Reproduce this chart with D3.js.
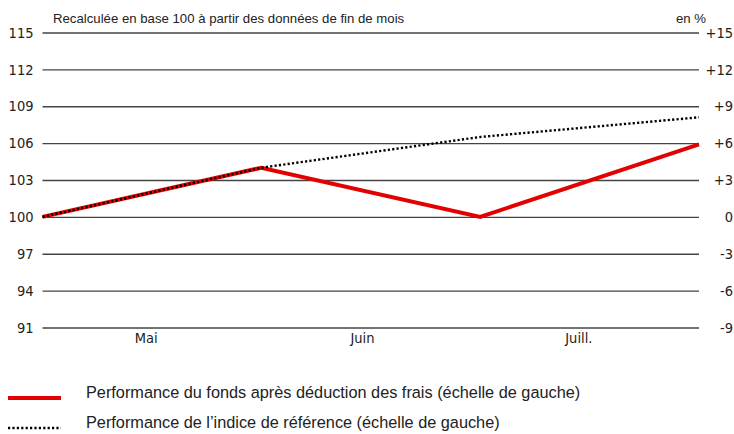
<!DOCTYPE html>
<html lang="fr">
<head>
  <meta charset="UTF-8">
  <title>Performance du fonds</title>
  <script src="https://d3js.org/d3.v7.min.js"></script>
  <style>
    body { margin: 0; background: #fff; }
    svg { display: block; font-family: "Liberation Sans", Arial, sans-serif; }
    .tick text { font-family: "Liberation Sans Narrow", "DejaVu Sans Condensed", sans-serif; font-size: 14.5px; fill: #222; }
    .grid line { stroke: #444; stroke-width: 1.4px; }
    .domain { display: none; }
  </style>
</head>
<body>
  <div id="chart"></div>
  <script>
    // données (base 100, fin de mois)
    const points = ["Avr", "Mai", "Juin", "Juill."];
    const months = ["Mai", "Juin", "Juill."];
    const fonds = [100, 104.0, 100.0, 105.9];
    const indice = [100, 104.0, 106.5, 108.1];
    const leftTicks = [91, 94, 97, 100, 103, 106, 109, 112, 115];
    const rightLabels = ["-9", "-6", "-3", "0", "+3", "+6", "+9", "+12", "+15"];
    const legendItems = [
      {label: "Performance du fonds après déduction des frais (échelle de gauche)", color: "#e30000", dash: null},
      {label: "Performance de l\u2019indice de référence (échelle de gauche)", color: "#000", dash: "2.2,2.2"}
    ];

    const width = 734, height = 434;
    const m = {left: 42.5, right: 699, top: 32.5, bottom: 327.5};

    const svg = d3.select("#chart").append("svg")
      .attr("width", width)
      .attr("height", height);

    const x = d3.scalePoint().domain(points).range([m.left, m.right]);
    const xm = d3.scaleBand().domain(months).range([38, 687]);
    const y = d3.scaleLinear().domain([91, 115]).range([m.bottom, m.top]);

    // grille + axe gauche
    svg.append("g")
      .attr("class", "grid")
      .attr("transform", `translate(${m.left},0)`)
      .call(d3.axisLeft(y).tickValues(leftTicks).tickSize(-(m.right - m.left)).tickPadding(9));

    // axe droit (en %)
    svg.append("g")
      .attr("transform", `translate(${m.right},0)`)
      .call(d3.axisRight(y).tickValues(leftTicks).tickSize(0)
        .tickFormat((d, i) => rightLabels[i]))
      .call(g => g.selectAll(".tick text").attr("text-anchor", "end").attr("x", 34));

    // mois
    svg.append("g")
      .attr("transform", `translate(0,${m.bottom})`)
      .call(d3.axisBottom(xm).tickSize(0).tickPadding(5));

    // titres
    svg.append("text")
      .attr("x", 53).attr("y", 23)
      .style("font-size", "13.2px").style("fill", "#222")
      .text("Recalculée en base 100 à partir des données de fin de mois");
    svg.append("text")
      .attr("x", 706).attr("y", 23)
      .attr("text-anchor", "end")
      .style("font-size", "13.2px").style("fill", "#222")
      .text("en %");

    const line = d3.line()
      .x((d, i) => x(points[i]))
      .y(d => y(d));

    svg.append("path")
      .datum(fonds)
      .attr("d", line)
      .attr("fill", "none")
      .attr("stroke", "#e30000")
      .attr("stroke-width", 4);

    svg.append("path")
      .datum(indice)
      .attr("d", line)
      .attr("fill", "none")
      .attr("stroke", "#000")
      .attr("stroke-width", 2.4)
      .attr("stroke-dasharray", "2.2,2.2");

    // légende
    const lg = svg.selectAll(".legend")
      .data(legendItems)
      .enter().append("g")
      .attr("transform", (d, i) => `translate(0,${398 + i * 30})`);

    lg.append("line")
      .attr("x1", 8).attr("x2", 61)
      .attr("y1", 0).attr("y2", 0)
      .attr("stroke", d => d.color)
      .attr("stroke-width", (d, i) => i === 0 ? 4 : 2.6)
      .attr("stroke-dasharray", d => d.dash);

    lg.append("text")
      .attr("x", 86).attr("y", -6).attr("dy", "0.35em")
      .style("font-size", "16.3px").style("fill", "#222")
      .text(d => d.label);
  </script>
</body>
</html>
